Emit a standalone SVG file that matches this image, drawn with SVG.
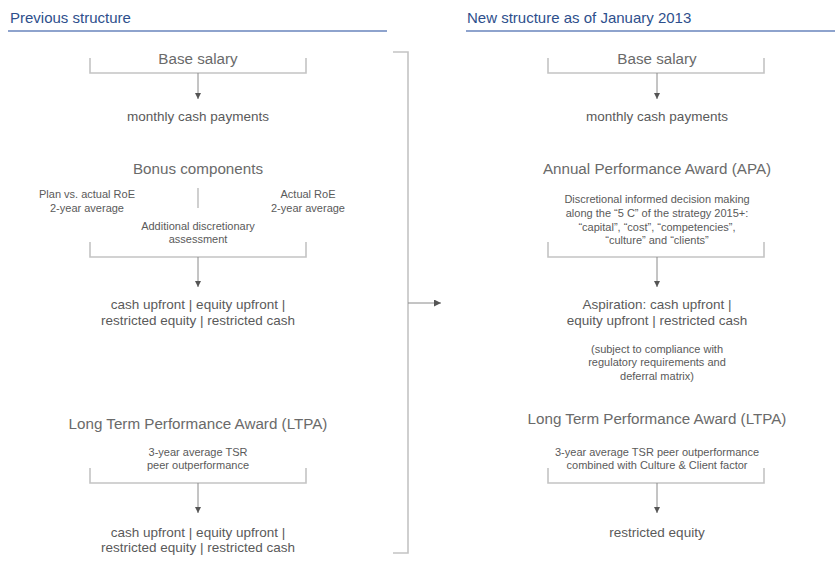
<svg xmlns="http://www.w3.org/2000/svg" width="835" height="572" viewBox="0 0 835 572">
<defs>
<style>
text{font-family:"Liberation Sans",Arial,sans-serif;text-anchor:middle;fill:#5e5e5e}
.hdr{font-size:15px;fill:#2e4f8c;text-anchor:start}
.ttl{font-size:15.2px;fill:#6a6a6a}
.res{font-size:13.5px;fill:#5a5a5a}
.sm{font-size:11px;fill:#5a5a5a}
.rule{stroke:#8ea3cd;stroke-width:2;fill:none}
.brk{stroke:#c4c4c4;stroke-width:1.6;fill:none}
.stem{stroke:#8a8a8a;stroke-width:1;fill:none}
</style>
<marker id="ah" viewBox="0 0 10 10" refX="10" refY="5" markerWidth="6" markerHeight="6" markerUnits="userSpaceOnUse" orient="auto">
<path d="M0,0 L10,5 L0,10 z" fill="#555"/>
</marker>
<marker id="ah2" viewBox="0 0 10 10" refX="10" refY="5" markerWidth="7" markerHeight="7" markerUnits="userSpaceOnUse" orient="auto">
<path d="M0,0 L10,5 L0,10 z" fill="#555"/>
</marker>
</defs>
<rect width="835" height="572" fill="#fff"/>

<g id="header-left">
<text class="hdr" x="10" y="23">Previous structure</text>
<line class="rule" x1="8" y1="31" x2="387" y2="31"/>
</g>
<g id="header-right">
<text class="hdr" x="467" y="23">New structure as of January 2013</text>
<line class="rule" x1="466" y1="31" x2="835" y2="31"/>
</g>

<g id="left-base">
<text class="ttl" x="198" y="64">Base salary</text>
<path class="brk" d="M90,58 V73 H306 V58"/>
</g>
<g id="left-base-out"><text class="res" x="198" y="121">monthly cash payments</text></g>

<g id="left-bonus">
<text class="ttl" x="198" y="174">Bonus components</text>
<text class="sm" x="87" y="198">Plan vs. actual RoE</text>
<text class="sm" x="87" y="212">2-year average</text>
<text class="sm" x="308" y="198">Actual RoE</text>
<text class="sm" x="308" y="212">2-year average</text>
<line class="brk" x1="198" y1="188" x2="198" y2="208"/>
<text class="sm" x="198" y="230">Additional discretionary</text>
<text class="sm" x="198" y="243">assessment</text>
<path class="brk" d="M90,242 V257 H306 V242"/>
</g>
<g id="left-bonus-out">
<text class="res" x="198" y="309">cash upfront | equity upfront |</text>
<text class="res" x="198" y="325">restricted equity | restricted cash</text>
</g>

<g id="left-ltpa">
<text class="ttl" x="198" y="429">Long Term Performance Award (LTPA)</text>
<text class="sm" x="198" y="456">3-year average TSR</text>
<text class="sm" x="198" y="469">peer outperformance</text>
<path class="brk" d="M90,468 V483 H306 V468"/>
</g>
<g id="left-ltpa-out">
<text class="res" x="198" y="537">cash upfront | equity upfront |</text>
<text class="res" x="198" y="552">restricted equity | restricted cash</text>
</g>

<g id="right-base">
<text class="ttl" x="657" y="64">Base salary</text>
<path class="brk" d="M548,58 V73 H764 V58"/>
</g>
<g id="right-base-out"><text class="res" x="657" y="121">monthly cash payments</text></g>

<g id="right-apa">
<text class="ttl" x="657" y="174">Annual Performance Award (APA)</text>
<text class="sm" x="657" y="203">Discretional informed decision making</text>
<text class="sm" x="657" y="217">along the “5 C” of the strategy 2015+:</text>
<text class="sm" x="657" y="231">“capital”, “cost”, “competencies”,</text>
<text class="sm" x="657" y="244">“culture” and “clients”</text>
<path class="brk" d="M548,242 V257 H764 V242"/>
</g>
<g id="right-apa-out">
<text class="res" x="657" y="309">Aspiration: cash upfront |</text>
<text class="res" x="657" y="325">equity upfront | restricted cash</text>
<text class="sm" x="657" y="353">(subject to compliance with</text>
<text class="sm" x="657" y="366">regulatory requirements and</text>
<text class="sm" x="657" y="380">deferral matrix)</text>
</g>

<g id="right-ltpa">
<text class="ttl" x="657" y="424">Long Term Performance Award (LTPA)</text>
<text class="sm" x="657" y="456">3-year average TSR peer outperformance</text>
<text class="sm" x="657" y="469">combined with Culture &amp; Client factor</text>
<path class="brk" d="M548,468 V483 H764 V468"/>
</g>
<g id="right-ltpa-out"><text class="res" x="657" y="537">restricted equity</text></g>

<g id="big-bracket">
<path class="brk" d="M393,52 H408 V553 H393"/>
</g>

<g id="connectors">
<line class="stem" x1="198" y1="73" x2="198" y2="99" marker-end="url(#ah)"/>
<line class="stem" x1="198" y1="257" x2="198" y2="287" marker-end="url(#ah)"/>
<line class="stem" x1="198" y1="483" x2="198" y2="513" marker-end="url(#ah)"/>
<line class="stem" x1="657" y1="73" x2="657" y2="99" marker-end="url(#ah)"/>
<line class="stem" x1="657" y1="257" x2="657" y2="287" marker-end="url(#ah)"/>
<line class="stem" x1="657" y1="483" x2="657" y2="513" marker-end="url(#ah)"/>
<line class="stem" x1="408" y1="303" x2="441" y2="303" marker-end="url(#ah2)"/>
</g>
</svg>
